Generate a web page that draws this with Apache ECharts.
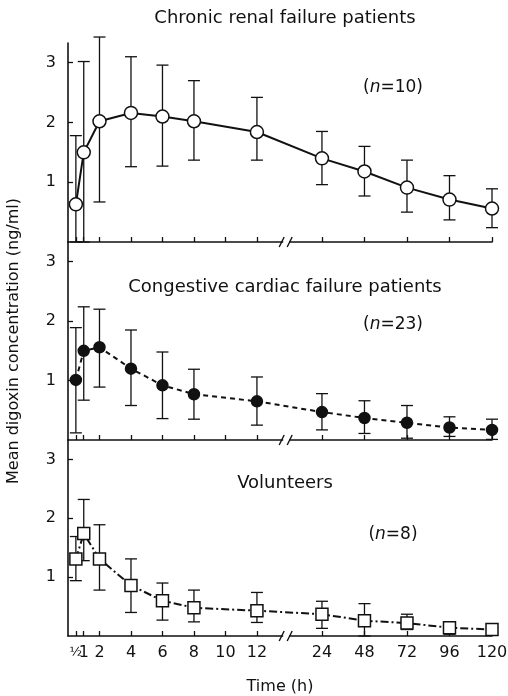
<!DOCTYPE html>
<html>
<head>
<meta charset="utf-8">
<script src="https://cdn.jsdelivr.net/npm/echarts@6/dist/echarts.min.js"></script>
<style>
  html, body { margin: 0; background: #fff; }
  #chart { width: 508px; height: 696px; }
</style>
</head>
<body>
<div id="chart"></div>
<script>
// sampling times (h)
const hours = [0.5, 1, 2, 4, 6, 8, 12, 24, 48, 72, 96, 120];
const tickHours = [0.5, 1, 2, 4, 6, 8, 10, 12, 24, 48, 72, 96, 120];
const tickLabels = ['½', '1', '2', '4', '6', '8', '10', '12', '24', '48', '72', '96', '120'];
const yTicks = [1, 2, 3];

// chronic renal failure (n=10)
const renalMean = [0.63, 1.50, 2.02, 2.16, 2.10, 2.02, 1.84, 1.40, 1.18, 0.91, 0.71, 0.56];
const renalLow  = [0, 0, 0.67, 1.26, 1.27, 1.37, 1.37, 0.96, 0.77, 0.50, 0.37, 0.24];
const renalHigh = [1.78, 3.02, 3.43, 3.10, 2.96, 2.70, 2.42, 1.85, 1.60, 1.37, 1.11, 0.89];

// congestive cardiac failure (n=23)
const cardiacMean = [1.01, 1.50, 1.56, 1.20, 0.92, 0.77, 0.65, 0.47, 0.37, 0.29, 0.21, 0.17];
const cardiacLow  = [0.12, 0.67, 0.89, 0.58, 0.36, 0.35, 0.25, 0.17, 0.11, 0.03, 0.06, 0.01];
const cardiacHigh = [1.89, 2.24, 2.20, 1.85, 1.48, 1.19, 1.06, 0.78, 0.66, 0.58, 0.39, 0.35];

// volunteers (n=8)
const volMean = [1.31, 1.74, 1.31, 0.86, 0.60, 0.48, 0.43, 0.37, 0.26, 0.22, 0.14, 0.11];
const volLow  = [0.94, 1.28, 0.78, 0.40, 0.27, 0.24, 0.23, 0.13, 0.0, 0.11, 0.03, 0.06];
const volHigh = [1.69, 2.32, 1.89, 1.31, 0.90, 0.78, 0.74, 0.59, 0.55, 0.37, 0.19, 0.15];

const titles = ['Chronic renal failure patients', 'Congestive cardiac failure patients', 'Volunteers'];
const counts = [10, 23, 8];

// broken time axis: linear to 12 h, then equal steps of 24 h
function pos(h) {
  return h <= 12 ? h : 16.13 + (h - 24) / 24 * 2.7;
}
const xMax = pos(120);
const breakPos = pos(12) + 0.45 * (pos(24) - pos(12));

const ink = '#111';
const font = 'DejaVu Sans';

function errorBarItem(params, api) {
  const x = api.value(0);
  const top = api.coord([x, api.value(2)]);
  const bot = api.coord([x, api.value(1)]);
  const cap = 6;
  const st = { stroke: ink, lineWidth: 1.3 };
  return {
    type: 'group',
    children: [
      { type: 'line', shape: { x1: top[0], y1: top[1], x2: bot[0], y2: bot[1] }, style: st },
      { type: 'line', shape: { x1: top[0] - cap, y1: top[1], x2: top[0] + cap, y2: top[1] }, style: st },
      { type: 'line', shape: { x1: bot[0] - cap, y1: bot[1], x2: bot[0] + cap, y2: bot[1] }, style: st }
    ]
  };
}

function breakItem(params, api) {
  const p = api.coord([api.value(0), 0]);
  const st = { stroke: ink, lineWidth: 1.4 };
  return {
    type: 'group',
    children: [
      { type: 'rect', shape: { x: p[0] - 3, y: p[1] - 2, width: 6, height: 4 }, style: { fill: '#fff' } },
      { type: 'line', shape: { x1: p[0] - 7, y1: p[1] + 5, x2: p[0] - 2, y2: p[1] - 5 }, style: st },
      { type: 'line', shape: { x1: p[0] + 1, y1: p[1] + 5, x2: p[0] + 6, y2: p[1] - 5 }, style: st }
    ]
  };
}

const panels = [
  { mean: renalMean, low: renalLow, high: renalHigh, symbol: 'circle', size: 13, fill: '#fff', dash: 'solid' },
  { mean: cardiacMean, low: cardiacLow, high: cardiacHigh, symbol: 'circle', size: 11, fill: ink, dash: [5, 4] },
  { mean: volMean, low: volLow, high: volHigh, symbol: 'rect', size: 12, fill: '#fff', dash: [8, 3, 2, 3] }
];

const grids = [
  { left: 68, right: 16, top: 43, height: 199, containLabel: false, outerBoundsMode: 'none' },
  { left: 68, right: 16, top: 242, height: 198, containLabel: false, outerBoundsMode: 'none' },
  { left: 68, right: 16, top: 440, height: 196, containLabel: false, outerBoundsMode: 'none' }
];

const tickPos = tickHours.map(pos);
const labelPos = tickPos.slice(1);
const halfPos = tickPos.slice(0, 1);

function labelFor(v) {
  const k = tickPos.findIndex(t => Math.abs(t - v) < 1e-6);
  return tickLabels[k];
}

const xAxes = grids.map((g, i) => ({
  type: 'value',
  gridIndex: i,
  position: 'bottom',
  min: 0,
  max: xMax,
  axisLine: { show: true, onZero: false, lineStyle: { color: ink, width: 1.6 } },
  axisTick: { show: true, inside: true, length: 5, customValues: tickPos, lineStyle: { color: ink, width: 1.3 } },
  axisLabel: {
    show: i === 2,
    customValues: labelPos,
    showMinLabel: true,
    showMaxLabel: true,
    margin: 9,
    color: ink,
    fontFamily: font,
    fontSize: 16,
    formatter: labelFor
  },
  splitLine: { show: false },
  name: i === 2 ? 'Time (h)' : '',
  nameLocation: 'middle',
  nameGap: 43,
  nameTextStyle: { color: ink, fontFamily: font, fontSize: 16 }
}));

// extra label-only axis for the ½ h tick, so it is not hidden next to "1"
xAxes.push({
  type: 'value',
  gridIndex: 2,
  position: 'bottom',
  offset: 0,
  min: 0,
  max: xMax,
  axisLine: { show: false, onZero: false },
  axisTick: { show: false },
  axisLabel: {
    customValues: halfPos,
    showMinLabel: true,
    margin: 10,
    color: ink,
    fontFamily: font,
    fontSize: 13,
    formatter: labelFor
  },
  splitLine: { show: false }
});

const yAxes = grids.map((g, i) => ({
  type: 'value',
  gridIndex: i,
  min: 0,
  max: 3.33,
  axisLine: { show: true, onZero: false, lineStyle: { color: ink, width: 1.6 } },
  axisTick: { show: true, inside: true, length: 5, customValues: yTicks, lineStyle: { color: ink, width: 1.3 } },
  axisLabel: { customValues: yTicks, margin: 12, color: ink, fontFamily: font, fontSize: 16 },
  splitLine: { show: false },
  name: i === 1 ? 'Mean digoxin concentration (ng/ml)' : '',
  nameLocation: 'middle',
  nameRotate: 90,
  nameGap: 46,
  nameTextStyle: { color: ink, fontFamily: font, fontSize: 16 }
}));

const series = [];
panels.forEach((p, i) => {
  series.push({
    type: 'custom',
    xAxisIndex: i,
    yAxisIndex: i,
    clip: false,
    z: 2,
    renderItem: errorBarItem,
    encode: { x: 0, y: [1, 2] },
    data: hours.map((h, k) => [pos(h), p.low[k], p.high[k]])
  });
  series.push({
    type: 'line',
    xAxisIndex: i,
    yAxisIndex: i,
    z: 3,
    symbol: p.symbol,
    symbolSize: p.size,
    showAllSymbol: true,
    itemStyle: { color: p.fill, borderColor: ink, borderWidth: 1.5, opacity: 1 },
    lineStyle: { color: ink, width: 2, type: p.dash },
    emphasis: { disabled: true },
    data: hours.map((h, k) => [pos(h), p.mean[k]])
  });
  series.push({
    type: 'custom',
    xAxisIndex: i,
    yAxisIndex: i,
    clip: false,
    z: 4,
    renderItem: breakItem,
    data: [[breakPos, 0]]
  });
});

const titleY = [18, 287, 483];
const countY = [88, 325, 535];
const graphics = [];
titles.forEach((t, i) => {
  graphics.push({
    type: 'text', x: 285, y: titleY[i], z: 10,
    style: { text: t, fill: ink, font: '18px "' + font + '"', textAlign: 'center', textVerticalAlign: 'middle' }
  });
  graphics.push({
    type: 'text', x: 393, y: countY[i], z: 10,
    style: {
      text: '({i|n}=' + counts[i] + ')',
      fill: ink,
      font: '17px "' + font + '"',
      textAlign: 'center',
      textVerticalAlign: 'middle',
      rich: { i: { fontStyle: 'italic', fontFamily: font, fontSize: 17, fill: ink } }
    }
  });
});

const chart = echarts.init(document.getElementById('chart'));
chart.setOption({
  backgroundColor: '#fff',
  animation: false,
  grid: grids,
  xAxis: xAxes,
  yAxis: yAxes,
  series: series,
  graphic: graphics
});
</script>
</body>
</html>
